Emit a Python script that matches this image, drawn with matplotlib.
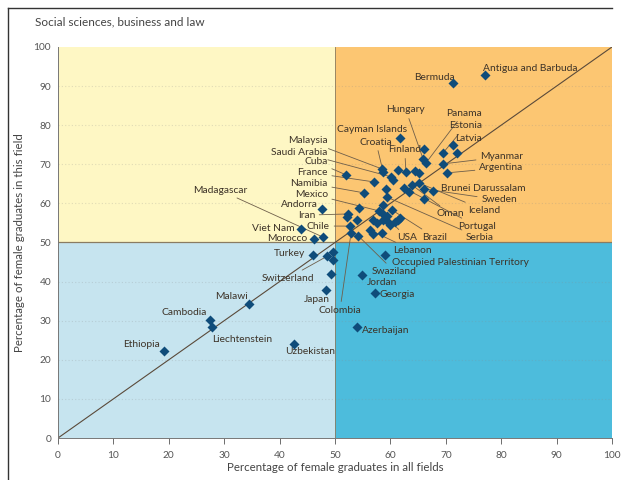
import matplotlib
matplotlib.use("Agg")
import matplotlib.pyplot as plt
from matplotlib.patches import Rectangle
from matplotlib.lines import Line2D

plt.rcParams['font.family'] = ['Lato', 'DejaVu Sans']

# Labelled countries: share of female graduates in all fields / in this field
names = [
    "Antigua and Barbuda", "Bermuda", "Hungary", "Panama", "Estonia", "Latvia",
    "Cayman Islands", "Malaysia", "Croatia", "Finland", "Saudi Arabia", "Myanmar",
    "Argentina", "Cuba", "France", "Namibia", "Mexico", "Brunei Darussalam",
    "Sweden", "Madagascar", "Andorra", "Iceland", "Iran", "Oman", "Chile",
    "Portugal", "Viet Nam", "Morocco", "USA", "Brazil", "Serbia", "Lebanon",
    "Occupied Palestinian Territory", "Turkey", "Switzerland", "Swaziland",
    "Jordan", "Japan", "Georgia", "Malawi", "Colombia", "Cambodia",
    "Azerbaijan", "Liechtenstein", "Ethiopia", "Uzbekistan",
]
pct_all = [
    77.1, 71.3, 65.9, 66.4, 69.5, 71.3,
    61.7, 58.5, 58.7, 62.8, 60.1, 69.5,
    70.2, 52.0, 57.0, 55.2, 57.9, 67.7,
    66.1, 47.8, 47.7, 65.2, 52.3, 63.9, 52.7,
    62.5, 43.9, 46.2, 58.7, 60.3, 59.4, 56.3,
    59.0, 46.0, 48.6, 54.2,
    54.9, 48.4, 57.2, 34.5, 52.9, 27.4,
    54.0, 27.8, 19.1, 42.6,
]
pct_field = [
    92.8, 90.8, 71.4, 70.3, 72.9, 74.9,
    76.7, 68.8, 68.0, 68.0, 66.8, 70.1,
    67.8, 67.3, 65.5, 62.7, 58.1, 63.2,
    63.7, 51.4, 58.6, 65.2, 57.3, 64.7, 54.2,
    63.9, 53.5, 50.9, 57.3, 58.3, 61.6, 53.2,
    46.8, 46.8, 46.5, 51.7,
    41.7, 37.9, 37.1, 34.3, 52.4, 30.2,
    28.4, 28.4, 22.3, 24.0,
]

# Countries drawn without a name
other_all = [
    66.1, 72.0, 61.4, 64.4, 65.2, 60.5, 63.4, 66.1, 59.2, 58.7,
    59.4, 54.3, 54.0, 56.9, 57.6, 58.7, 59.6, 60.8, 61.4, 61.7,
    59.9, 56.9, 58.5, 52.2, 49.6, 49.6, 49.3,
]
other_field = [
    73.9, 72.9, 68.5, 68.3, 67.8, 66.0, 62.9, 61.1, 63.7, 59.6,
    56.8, 58.8, 55.8, 55.8, 55.0, 55.8, 55.2, 55.2, 55.8, 56.3,
    54.5, 52.2, 52.4, 56.5, 47.6, 45.5, 41.9,
]

# name -> (text x, text y, alignment, draw leader line)
label_layout = {
    "Antigua and Barbuda": (76.7, 94.6, "left", False),
    "Bermuda": (71.7, 92.1, "right", False),
    "Hungary": (62.8, 83.9, "center", True),
    "Panama": (70.0, 83.1, "left", True),
    "Estonia": (70.6, 79.8, "left", True),
    "Latvia": (71.7, 76.7, "left", False),
    "Cayman Islands": (56.7, 78.8, "center", False),
    "Malaysia": (48.7, 76.0, "right", True),
    "Croatia": (57.4, 75.7, "center", True),
    "Finland": (62.6, 73.7, "center", True),
    "Saudi Arabia": (48.7, 73.1, "right", True),
    "Myanmar": (76.2, 71.9, "left", True),
    "Argentina": (76.0, 69.1, "left", True),
    "Cuba": (48.7, 70.6, "right", True),
    "France": (48.7, 67.8, "right", True),
    "Namibia": (48.7, 65.2, "right", True),
    "Mexico": (48.7, 62.4, "right", True),
    "Brunei Darussalam": (69.1, 63.9, "left", False),
    "Sweden": (76.4, 60.9, "left", True),
    "Madagascar": (34.1, 63.4, "right", True),
    "Andorra": (46.9, 59.8, "right", False),
    "Iceland": (74.0, 58.3, "left", True),
    "Iran": (46.4, 57.0, "right", True),
    "Oman": (68.4, 57.3, "left", True),
    "Chile": (49.1, 54.2, "right", True),
    "Portugal": (72.2, 54.2, "left", True),
    "Viet Nam": (42.8, 53.7, "right", False),
    "Morocco": (45.1, 50.9, "right", False),
    "USA": (61.2, 51.2, "left", True),
    "Brazil": (65.7, 51.4, "left", True),
    "Serbia": (73.6, 51.2, "left", True),
    "Lebanon": (60.5, 48.0, "left", True),
    "Occupied Palestinian Territory": (60.3, 44.9, "left", False),
    "Turkey": (44.6, 47.1, "right", False),
    "Switzerland": (41.5, 40.9, "center", True),
    "Swaziland": (56.7, 42.6, "left", True),
    "Jordan": (55.8, 39.8, "left", False),
    "Japan": (46.8, 35.5, "center", False),
    "Georgia": (58.1, 36.8, "left", False),
    "Malawi": (31.4, 36.3, "center", False),
    "Colombia": (50.9, 32.7, "center", True),
    "Cambodia": (26.9, 32.0, "right", False),
    "Azerbaijan": (54.9, 27.4, "left", False),
    "Liechtenstein": (27.8, 25.1, "left", False),
    "Ethiopia": (18.4, 24.0, "right", False),
    "Uzbekistan": (45.5, 22.0, "center", False),
}

text_col = "#3d3328"
line_col = "#6e5e4a"
marker_col = "#0f4c7a"

fig = plt.figure(figsize=(6.38, 4.8), dpi=100)
ax = fig.add_axes([0.0909, 0.0875, 0.8683, 0.8146])

# quadrant backgrounds
ax.add_patch(Rectangle((0, 50), 50, 50, color="#fef7c4", zorder=0, lw=0))
ax.add_patch(Rectangle((50, 50), 50, 50, color="#fcc672", zorder=0, lw=0))
ax.add_patch(Rectangle((0, 0), 50, 50, color="#c6e4ef", zorder=0, lw=0))
ax.add_patch(Rectangle((50, 0), 50, 50, color="#4dbcdc", zorder=0, lw=0))

for gy in range(10, 100, 10):
    if gy != 50:
        ax.axhline(gy, color="#8a8a8a", alpha=0.25, lw=0.8, ls=(0, (1, 2)), zorder=1)
ax.axhline(50, color="#8a7c62", lw=0.9, zorder=1)
ax.axvline(50, color="#8a7c62", lw=0.6, zorder=1)
ax.plot([0, 100], [0, 100], color="#5a4a3a", lw=0.8, zorder=2)

ax.scatter(pct_all, pct_field, marker="D", s=26, color=marker_col, zorder=5, lw=0)
ax.scatter(other_all, other_field, marker="D", s=26, color=marker_col, zorder=5, lw=0)

for name, x, y in zip(names, pct_all, pct_field):
    lx, ly, ha, leader = label_layout[name]
    if leader:
        ax.annotate(name, xy=(x, y), xytext=(lx, ly), ha=ha, va="center",
                    fontsize=7.4, color=text_col, zorder=4,
                    arrowprops=dict(arrowstyle="-", color=line_col, lw=0.6,
                                    shrinkA=1, shrinkB=0))
    else:
        ax.text(lx, ly, name, ha=ha, va="center", fontsize=7.4, color=text_col, zorder=4)

ax.set_xlim(0, 100)
ax.set_ylim(0, 100)
ax.set_xticks(range(0, 101, 10))
ax.set_yticks(range(0, 101, 10))
ax.tick_params(axis="both", labelsize=7.3, colors="#555555", length=4, width=0.6)
ax.tick_params(axis="x", pad=5)
ax.tick_params(axis="y", length=0, pad=5)
for side in ["top", "right"]:
    ax.spines[side].set_visible(False)
for side in ["left", "bottom"]:
    ax.spines[side].set_color("#777777")
    ax.spines[side].set_linewidth(0.7)

ax.set_xlabel("Percentage of female graduates in all fields", fontsize=8.3, color="#444444", labelpad=2)
ax.set_ylabel("Percentage of female graduates in this field", fontsize=8.3, color="#444444", labelpad=6)

fig.text(0.055, 0.955, "Social sciences, business and law", fontsize=8.5, color="#444444",
         ha="left", va="center")

# thin frame on the left and top of the panel
fig.add_artist(Line2D([0.013, 0.013], [0.0, 0.983], color="#333333", lw=1.0))
fig.add_artist(Line2D([0.013, 0.96], [0.983, 0.983], color="#333333", lw=1.0))

fig.savefig("out.png", dpi=100)
